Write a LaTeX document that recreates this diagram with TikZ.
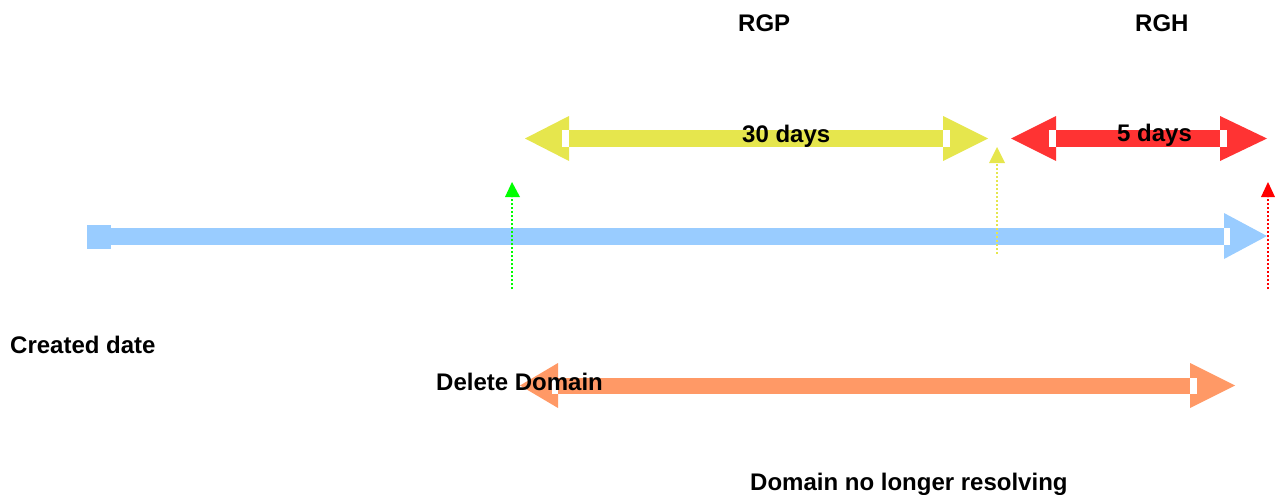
\documentclass[tikz,border=0pt]{standalone}
\usepackage{fontspec}
\setmainfont{Liberation Sans}
\definecolor{tlblue}{RGB}{153,204,255}
\definecolor{tlyellow}{RGB}{230,230,77}
\definecolor{tlred}{RGB}{255,51,51}
\definecolor{tlorange}{RGB}{255,153,102}
\definecolor{tlgreen}{RGB}{0,255,0}
\definecolor{tldred}{RGB}{255,0,0}
\tikzset{
  lbl/.style={anchor=base west,inner sep=0pt,font=\fontsize{24}{28}\selectfont\bfseries},
  notch/.style={fill=white},
  dotline/.style={line width=2pt,dash pattern=on 2pt off 2pt},
}
\begin{document}
\begin{tikzpicture}[x=1pt,y=-1pt]
\useasboundingbox (0,0) rectangle (1275,495);
% blue timeline
\fill[tlblue] (87,225) rectangle (111,249);
\fill[tlblue] (111,228) rectangle (1224,245);
\fill[tlblue] (1224,213) -- (1267,236) -- (1224,259) -- cycle;
\fill[notch] (1224,228) rectangle (1230,245);
% yellow double arrow (RGP)
\fill[tlyellow] (569,130) rectangle (943,147);
\fill[tlyellow] (569,116) -- (525,138.5) -- (569,161) -- cycle;
\fill[notch] (562,130) rectangle (569,147);
\fill[tlyellow] (943,116) -- (988,138.5) -- (943,161) -- cycle;
\fill[notch] (943,130) rectangle (950,147);
% red double arrow (RGH)
\fill[tlred] (1056,130) rectangle (1220,147);
\fill[tlred] (1056,116) -- (1011,138.5) -- (1056,161) -- cycle;
\fill[notch] (1049,130) rectangle (1056,147);
\fill[tlred] (1220,116) -- (1267,138.5) -- (1220,161) -- cycle;
\fill[notch] (1220,130) rectangle (1227,147);
% orange double arrow
\fill[tlorange] (558,378) rectangle (1190,394);
\fill[tlorange] (558,363) -- (520,385.5) -- (558,408) -- cycle;
\fill[notch] (552,378) rectangle (558,394);
\fill[tlorange] (1190,363) -- (1235,385.5) -- (1190,408) -- cycle;
\fill[notch] (1190,378) rectangle (1197,394);
% dotted markers
\coordinate (gb) at (512,289); \coordinate (gt) at (512,197);
\draw[tlgreen,dotline] (gb) -- (gt);
\fill[tlgreen] (505,197) -- (512,182) -- (520,197) -- cycle;
\coordinate (yb) at (997,254); \coordinate (yt) at (997,163);
\draw[tlyellow,dotline] (yb) -- (yt);
\fill[tlyellow] (989,163) -- (997,147) -- (1005,163) -- cycle;
\coordinate (rb) at (1268,289); \coordinate (rt) at (1268,197);
\draw[tldred,dotline] (rb) -- (rt);
\fill[tldred] (1261,197) -- (1268,182) -- (1275,197) -- cycle;
% labels
\node[lbl] (rgp) at (738,32) {RGP};
\node[lbl] (rgh) at (1135,32) {RGH};
\node[lbl] (d30) at (742,142) {30 days};
\node[lbl] (d5) at (1117,141) {5 days};
\node[lbl] (created) at (10,353) {Created date};
\node[lbl] (delete) at (436,390) {Delete Domain};
\node[lbl] (nores) at (750,490) {Domain no longer resolving};
\end{tikzpicture}
\end{document}
